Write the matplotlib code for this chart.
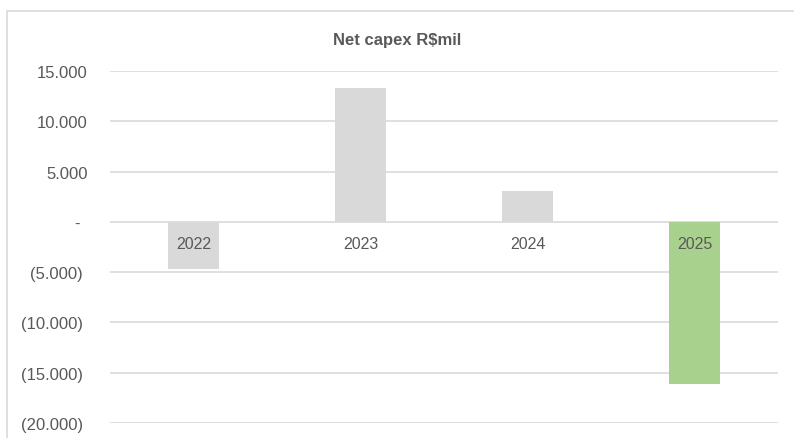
"""Net capex chart (R$ mil) rebuilt as a plain matplotlib column chart."""

import matplotlib

matplotlib.use("Agg")
import matplotlib.pyplot as plt
from matplotlib.patches import Rectangle
from matplotlib.transforms import ScaledTranslation

years = ["2022", "2023", "2024", "2025"]
net_capex = [-4700, 13300, 3100, -16100]
bar_colors = ["#D9D9D9", "#D9D9D9", "#D9D9D9", "#A9D18E"]
y_ticks = [15000, 10000, 5000, 0, -5000, -10000, -15000, -20000]

TEXT = "#595959"
GRID = "#D9D9D9"
W, H = 794, 439

plt.rcParams["font.family"] = ["Liberation Sans", "DejaVu Sans"]


def fmt_thousands(v):
    if v == 0:
        return "-"
    s = f"{abs(v):,.0f}".replace(",", ".")
    return f"({s})" if v < 0 else s


fig = plt.figure(figsize=(W / 100, H / 100), dpi=100)

# chart area border (only top/left visible, the rest is cropped)
fig.patches.append(Rectangle((7 / W, -0.1), 1.1, (H - 12) / H + 0.1,
                             transform=fig.transFigure, fill=False,
                             edgecolor=GRID, linewidth=1.2))

left, right, top, bottom = 110, 778, 72, 424
ax = fig.add_axes([left / W, 1 - bottom / H, (right - left) / W, (bottom - top) / H])

x = list(range(len(years)))
ax.bar(x, net_capex, width=0.31, color=bar_colors, zorder=3)

ax.set_xlim(-0.5, len(years) - 0.5)
ax.set_ylim(min(y_ticks), max(y_ticks))
ax.set_yticks(y_ticks, labels=[fmt_thousands(v) for v in y_ticks])
ax.tick_params(axis="y", length=0, pad=19.5, labelsize=12, labelcolor=TEXT)
ax.set_xticks([])
ax.grid(axis="y", color=GRID, linewidth=1.2, zorder=0)
for side in ax.spines.values():
    side.set_visible(False)

# accounting style: positives sit a bit right of the brackets, dash a bit left
for v, lab in zip(y_ticks, ax.get_yticklabels()):
    shift = 5 if v > 0 else (-3 if v == 0 else 0)
    lab.set_transform(lab.get_transform() + ScaledTranslation(shift / 100, 0, fig.dpi_scale_trans))

# category labels sit just under the zero line, inside the plot
for xi, label in zip(x, years):
    ax.annotate(label, (xi, 0), xytext=(0, -15.5), textcoords="offset points",
                ha="center", va="center", fontsize=11.5, color=TEXT, zorder=4)

fig.text(397 / W, 1 - 40 / H, "Net capex R$mil", ha="center", va="center",
         fontsize=12, fontweight="bold", color=TEXT)

fig.savefig("out.png", dpi=100)
